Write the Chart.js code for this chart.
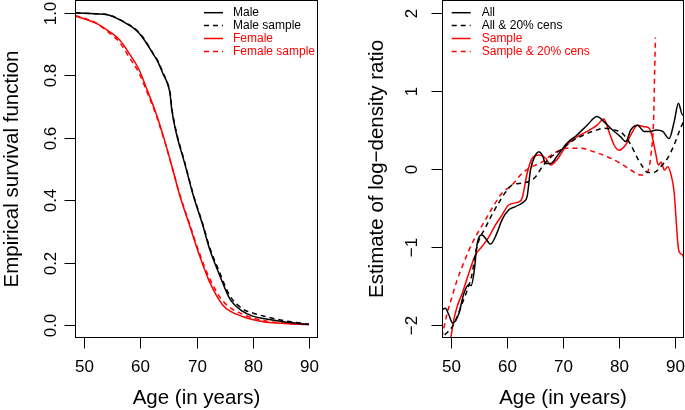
<!DOCTYPE html>
<html>
<head>
<meta charset="utf-8">
<script src="https://cdn.jsdelivr.net/npm/chart.js@4.4.1/dist/chart.umd.min.js"></script>
<style>
  body { margin: 0; background: #fff; }
  canvas { position: absolute; top: 0; }
  #left { left: 0; }
  #right { left: 340px; }
</style>
</head>
<body>
<canvas id="left" width="340" height="410"></canvas>
<canvas id="right" width="345" height="410"></canvas>
<script>
// ticks
const ageTicks = [50, 60, 70, 80, 90];
const ageTickLabels = ['50', '60', '70', '80', '90'];
const survTicks = [0, 0.2, 0.4, 0.6, 0.8, 1.0];
const survTickLabels = ['0.0', '0.2', '0.4', '0.6', '0.8', '1.0'];
const ratioTicks = [-2, -1, 0, 1, 2];
const ratioTickLabels = ['\u22122', '\u22121', '0', '1', '2'];

// left panel: empirical survival
const maleAge = [48.5, 50, 52, 54.2, 56, 57.4, 58.7, 59.8, 61, 62.2, 63.2, 64.0, 64.9, 65.3, 65.6, 66.4, 67.9, 69.4, 71.1, 72.3, 74.1, 75.9, 78.3, 80, 81.9, 85.4, 90];
const maleSurv = [0.999, 0.998, 0.996, 0.993, 0.98, 0.966, 0.952, 0.934, 0.905, 0.87, 0.84, 0.806, 0.77, 0.74, 0.69, 0.615, 0.518, 0.417, 0.321, 0.246, 0.161, 0.086, 0.044, 0.03, 0.022, 0.012, 0.003];
const maleSampleSurv = [0.999, 0.998, 0.996, 0.993, 0.981, 0.967, 0.953, 0.936, 0.907, 0.872, 0.843, 0.81, 0.772, 0.745, 0.697, 0.62, 0.522, 0.42, 0.325, 0.252, 0.17, 0.096, 0.052, 0.04, 0.03, 0.016, 0.004];
const femaleAge = [48.5, 50, 52.1, 54.5, 56.3, 58.0, 59.8, 61.0, 62.8, 64.3, 65.8, 67.0, 68.75, 70.5, 72.3, 74.7, 78.3, 81.9, 85, 90];
const femaleSurv = [0.988, 0.98, 0.966, 0.939, 0.913, 0.87, 0.817, 0.763, 0.678, 0.593, 0.497, 0.417, 0.321, 0.225, 0.14, 0.065, 0.028, 0.012, 0.007, 0.003];
const femaleSampleSurv = [0.99, 0.982, 0.967, 0.935, 0.905, 0.858, 0.806, 0.755, 0.673, 0.59, 0.497, 0.42, 0.326, 0.232, 0.151, 0.078, 0.035, 0.016, 0.008, 0.003];

// right panel: log-density ratio estimates
const allAge = [48.4, 49.0, 49.6, 50.3, 51.4, 52.3, 53.2, 53.6, 54.1, 54.7, 55.55, 56.2, 57.05, 58.2, 59.1, 60.3, 61.5, 63.0, 63.6, 64.2, 65.1, 65.7, 66.3, 66.9, 67.8, 69.0, 70.7, 72.5, 74.3, 76.1, 77.3, 78.5, 80.3, 81.2, 82.1, 83.3, 84.5, 85.7, 86.6, 87.8, 88.95, 89.85, 90.6, 91.35, 91.9];
const allRatio = [-1.80, -1.78, -1.86, -1.97, -1.85, -1.59, -1.48, -1.49, -1.33, -0.95, -0.845, -0.89, -0.96, -0.82, -0.65, -0.525, -0.48, -0.42, -0.35, -0.01, 0.18, 0.22, 0.18, 0.07, 0.07, 0.17, 0.33, 0.435, 0.56, 0.67, 0.605, 0.52, 0.41, 0.35, 0.50, 0.56, 0.48, 0.48, 0.50, 0.48, 0.39, 0.605, 0.84, 0.69, 0.69];
const allCensAge = [48.9, 50.2, 51.1, 52.0, 52.9, 53.8, 54.35, 55.0, 56.15, 57.35, 58.55, 59.7, 60.9, 62.7, 63.9, 65.1, 66.3, 67.5, 69.5, 71.9, 73.7, 76.1, 77.3, 79.1, 80.6, 82.1, 83.3, 84.2, 85.1, 86.25, 87.45, 88.65, 89.85, 90.75, 91.9];
const allCensRatio = [-2.12, -2.02, -1.89, -1.72, -1.55, -1.33, -1.08, -0.91, -0.75, -0.58, -0.43, -0.30, -0.205, -0.18, -0.16, -0.10, 0.03, 0.13, 0.24, 0.37, 0.435, 0.50, 0.52, 0.50, 0.455, 0.31, 0.137, 0.03, -0.045, -0.045, 0.03, 0.137, 0.31, 0.48, 0.67];
const sampleAge = [49.9, 50.5, 51.1, 52.0, 53.2, 54.35, 55.55, 56.75, 57.9, 59.1, 60.3, 62.1, 62.7, 63.6, 64.5, 65.7, 66.9, 67.8, 69.0, 70.7, 72.5, 74.3, 76.1, 77.3, 78.2, 79.1, 80.0, 81.2, 82.1, 83.3, 84.5, 85.4, 86.0, 86.6, 87.0, 87.5, 88.1, 88.7, 89.3, 89.85, 90.15, 90.5, 90.75, 91.35, 91.9];
const sampleRatio = [-2.19, -1.93, -1.76, -1.59, -1.33, -1.10, -0.99, -0.87, -0.72, -0.59, -0.46, -0.42, -0.375, -0.055, 0.137, 0.18, 0.137, 0.05, 0.125, 0.31, 0.41, 0.48, 0.56, 0.64, 0.48, 0.31, 0.24, 0.31, 0.435, 0.56, 0.54, 0.52, 0.39, 0.18, 0.05, 0.09, -0.013, 0.03, -0.077, -0.3, -0.6, -0.95, -1.06, -1.10, -1.22];
const sampleCensAge = [48.4, 49.3, 50.2, 51.1, 52.0, 53.2, 54.35, 56.15, 57.35, 59.1, 60.9, 62.7, 64.5, 66.3, 68.35, 70.7, 73.1, 75.5, 77.9, 80.3, 82.1, 83.9, 85.1, 85.7, 86.2, 86.35, 86.5];
const sampleCensRatio = [-2.15, -1.85, -1.63, -1.42, -1.25, -1.04, -0.87, -0.65, -0.50, -0.31, -0.205, -0.055, 0.03, 0.09, 0.20, 0.265, 0.265, 0.22, 0.157, 0.07, -0.013, -0.077, -0.035, 0.18, 0.69, 1.2, 1.68];

const FONT = "'Liberation Sans', Arial, Helvetica, sans-serif";

function pts(xs, ys) {
  return xs.map((x, i) => ({ x: x, y: ys[i] }));
}

function series(label, xs, ys, color, dashed) {
  return {
    label: label,
    data: pts(xs, ys),
    borderColor: color,
    borderWidth: 1.5,
    borderDash: dashed ? [5, 4] : [],
    pointRadius: 0,
    fill: false,
    cubicInterpolationMode: 'monotone'
  };
}

// R-like frame, ticks, labels and legend drawn off the chart's scales
const rFrame = {
  id: 'rFrame',
  afterDatasetsDraw(chart, args, o) {
    const ctx = chart.ctx;
    const a = chart.chartArea;
    const sx = chart.scales.x, sy = chart.scales.y;
    const L = Math.round(a.left) + 0.5, R = Math.round(a.right) - 0.5;
    const T = Math.round(a.top) + 0.5, B = Math.round(a.bottom) - 0.5;
    ctx.save();
    ctx.strokeStyle = '#000';
    ctx.fillStyle = '#000';
    ctx.lineWidth = 1;
    ctx.setLineDash([]);
    ctx.strokeRect(L, T, R - L, B - T);

    // x ticks
    ctx.font = '17px ' + FONT;
    ctx.textAlign = 'center';
    ctx.textBaseline = 'alphabetic';
    o.xTicks.forEach((v, i) => {
      const px = Math.round(sx.getPixelForValue(v)) + 0.5;
      ctx.beginPath();
      ctx.moveTo(px, B);
      ctx.lineTo(px, B + 11);
      ctx.stroke();
      ctx.fillText(o.xLabels[i], px, o.xLabelY);
    });

    // y ticks, labels rotated like R
    o.yTicks.forEach((v, i) => {
      const py = Math.round(sy.getPixelForValue(v)) + 0.5;
      ctx.beginPath();
      ctx.moveTo(L, py);
      ctx.lineTo(L - 11, py);
      ctx.stroke();
      ctx.save();
      ctx.translate(o.yLabelX, py);
      ctx.rotate(-Math.PI / 2);
      ctx.fillText(o.yLabels[i], 0, 0);
      ctx.restore();
    });

    // axis titles
    ctx.font = '20.5px ' + FONT;
    ctx.fillText(o.xTitle, (a.left + a.right) / 2, o.xTitleY);
    ctx.save();
    ctx.translate(o.yTitleX, (a.top + a.bottom) / 2);
    ctx.rotate(-Math.PI / 2);
    ctx.fillText(o.yTitle, 0, 0);
    ctx.restore();

    // legend
    ctx.font = '12px ' + FONT;
    ctx.textAlign = 'left';
    ctx.textBaseline = 'middle';
    chart.data.datasets.forEach((ds, i) => {
      const y = o.legendY + i * o.legendStep;
      ctx.strokeStyle = ds.borderColor;
      ctx.lineWidth = ds.borderWidth;
      ctx.setLineDash(ds.borderDash);
      ctx.beginPath();
      ctx.moveTo(o.legendX0, y);
      ctx.lineTo(o.legendX1, y);
      ctx.stroke();
      ctx.fillStyle = ds.borderColor;
      ctx.fillText(ds.label, o.legendText, y);
    });
    ctx.restore();
  }
};

function makeChart(id, datasets, yMin, yMax, padding, frame) {
  return new Chart(document.getElementById(id), {
    type: 'line',
    data: { datasets: datasets },
    options: {
      responsive: false,
      animation: false,
      layout: { padding: padding },
      scales: {
        x: { type: 'linear', min: 48.4, max: 91.6, display: false },
        y: { type: 'linear', min: yMin, max: yMax, display: false }
      },
      plugins: {
        legend: { display: false },
        tooltip: { enabled: false },
        rFrame: frame
      }
    },
    plugins: [rFrame]
  });
}

makeChart('left', [
  series('Male', maleAge, maleSurv, '#000000', false),
  series('Male sample', maleAge, maleSampleSurv, '#000000', true),
  series('Female', femaleAge, femaleSurv, '#ff0000', false),
  series('Female sample', femaleAge, femaleSampleSurv, '#ff0000', true)
], -0.04, 1.04, { left: 75, right: 22, top: 0, bottom: 72 }, {
  xTicks: ageTicks, xLabels: ageTickLabels,
  yTicks: survTicks, yLabels: survTickLabels,
  xLabelY: 372.3, xTitleY: 403.5, yLabelX: 55.8, yTitleX: 18.3,
  xTitle: 'Age (in years)', yTitle: 'Empirical survival function',
  legendX0: 204, legendX1: 223, legendText: 233, legendY: 12.7, legendStep: 12.9
});

makeChart('right', [
  series('All', allAge, allRatio, '#000000', false),
  series('All & 20% cens', allCensAge, allCensRatio, '#000000', true),
  series('Sample', sampleAge, sampleRatio, '#ff0000', false),
  series('Sample & 20% cens', sampleCensAge, sampleCensRatio, '#ff0000', true)
], -2.16, 2.16, { left: 102, right: 1, top: 0, bottom: 72 }, {
  xTicks: ageTicks, xLabels: ageTickLabels,
  yTicks: ratioTicks, yLabels: ratioTickLabels,
  xLabelY: 372.3, xTitleY: 403.5, yLabelX: 77.3, yTitleX: 42.7,
  xTitle: 'Age (in years)', yTitle: 'Estimate of log\u2212density ratio',
  legendX0: 111.7, legendX1: 130.7, legendText: 141.7, legendY: 12.7, legendStep: 12.9
});
</script>
</body>
</html>
